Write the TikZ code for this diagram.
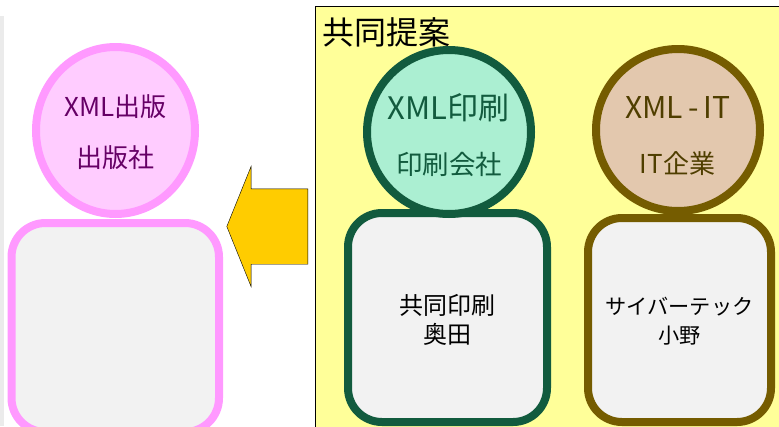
\documentclass[tikz,border=0pt]{standalone}
\usepackage{fontspec}
\setmainfont{Noto Sans CJK JP}
\usetikzlibrary {shapes.geometric,shapes.arrows}
\definecolor{pinkline}{HTML}{FF99FF}
\definecolor{pinkfill}{HTML}{FFCCFF}
\definecolor{pinktext}{HTML}{660066}
\definecolor{greenline}{HTML}{125B3E}
\definecolor{greenfill}{HTML}{ABEFD2}
\definecolor{brownline}{HTML}{755C00}
\definecolor{brownfill}{HTML}{E3C8AE}
\definecolor{browntext}{HTML}{4F3E00}
\definecolor{boxfill}{HTML}{F2F2F2}
\definecolor{panelfill}{HTML}{FFFF99}
\definecolor{arrowfill}{HTML}{FFCC00}
\definecolor{stripfill}{HTML}{EBEBEB}

\begin{document}
\begin{tikzpicture}[x=1pt,y=-1pt,
org/.style ={ ellipse ,draw ,line width =8pt ,inner sep =0pt},
staff/.style ={ rectangle ,rounded corners =34pt ,draw ,fill =boxfill ,line width =8pt ,inner sep =0pt},
caption/.style ={ inner sep =0pt ,font =\fontsize{#1}{#1}\selectfont},
names/.style ={ inner sep =0pt ,align =center ,font =\fontsize{#1}{29}\selectfont}]
\useasboundingbox (0,0) rectangle (779,426);
\fill[stripfill] (0,16) rectangle (4,426);
\node[rectangle ,draw =black ,fill =panelfill ,thin ,minimum width =480pt ,minimum height =440pt ,anchor =north west] (panel) at (315,6) {};
\node[caption =32 ,anchor =west] (title) at (322,32) {共同提案};
\node[single arrow ,shape border rotate =180 ,draw =black ,fill =arrowfill ,thin ,inner sep =0pt ,minimum height =81pt ,single arrow head extend =22.5pt ,single arrow tip angle =136 ,anchor =tail] (move) at (308,226.5) {\rule{0pt}{75pt}};
% publisher
\node[staff ,minimum width =207.5pt ,minimum height =209pt ,draw =pinkline] (pubbox) at (115.25,327.5) {};
\node[org ,minimum width =159pt ,minimum height =167pt ,draw =pinkline ,fill =pinkfill] (pub) at (115.5,130.5) {};
\node[caption =26 ,text =pinktext] (pubname) at (115.5,107) {XML出版};
\node[caption =26 ,text =pinktext] (pubkind) at (115.5,158) {出版社};
% printer
\node[staff ,minimum width =199pt ,minimum height =209pt ,draw =greenline] (printbox) at (447.5,317.5) {};
\node[org ,minimum width =164pt ,minimum height =164pt ,draw =greenline ,fill =greenfill] (print) at (449,132) {};
\node[caption =31 ,text =greenline] (printname) at (448.5,108) {XML印刷};
\node[caption =26.5 ,text =greenline] (printkind) at (449,164) {印刷会社};
\node[names =24] (printstaff) at (447,319.5) {共同印刷\\奥田};
% it company
\node[staff ,minimum width =183pt ,minimum height =204pt ,draw =brownline] (itbox) at (679.5,320) {};
\node[org ,minimum width =164pt ,minimum height =162pt ,draw =brownline ,fill =brownfill] (it) at (678,130) {};
\node[caption =30 ,text =browntext] (itname) at (678,108) {XML\hspace{0.17em}-\hspace{0.17em}IT};
\node[caption =26 ,text =browntext] (itkind) at (677.5,164) {IT企業};
\node[names =21.2] (itstaff) at (679.5,321.5) {サイバーテック\\小野};
\end{tikzpicture}
\end{document}
